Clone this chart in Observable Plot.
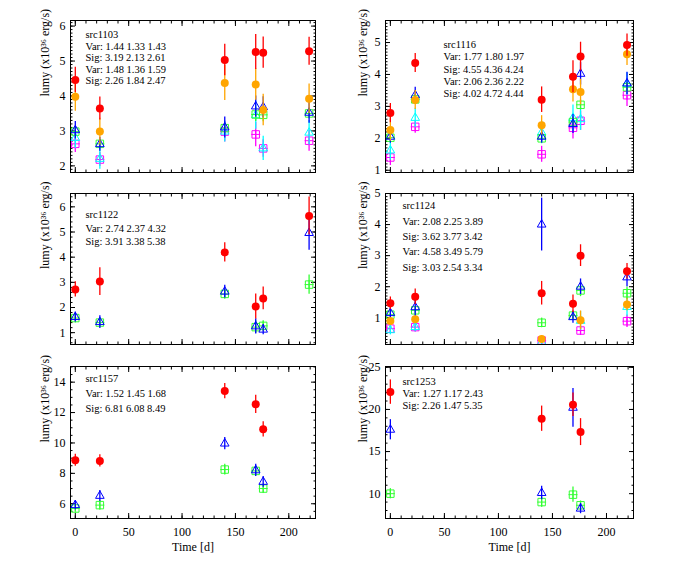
<!DOCTYPE html>
<html><head><meta charset="utf-8">
<script src="https://cdn.jsdelivr.net/npm/d3@7"></script>
<script src="https://cdn.jsdelivr.net/npm/@observablehq/plot@0.6"></script>
<style>
body{margin:0;background:#fff;}
#wrap{position:relative;width:692px;height:588px;background:#fff;}
#wrap svg{position:absolute;}
</style></head><body><div id="wrap"></div>
<script>
// observation epochs (days)
const times = [0, 23, 140, 169, 176, 219];
const xMajorTicks = [0, 50, 100, 150, 200];

// src1103
const s1103_red = [4.46, 3.64, 5.03, 5.26, 5.24, 5.28];
const s1103_redErr = [0.36, 0.33, 0.45, 0.5, 0.45, 0.4];
const s1103_orange = [3.98, 2.98, 4.37, 4.33, 3.6, 3.92];
const s1103_orangeErr = [0.42, 0.38, 0.5, 0.45, 0.45, 0.42];
const s1103_blue = [3.02, 2.62, 3.1, 3.7, 3.68, 3.52];
const s1103_blueErr = [0.25, 0.2, 0.3, 0.3, 0.3, 0.3];
const s1103_green = [2.98, 2.63, 3.08, 3.47, 3.46, 3.5];
const s1103_greenErr = [0.15, 0.12, 0.15, 0.2, 0.2, 0.15];
const s1103_cyan = [2.8, 2.2, 2.98, 3.45, 2.5, 2.95];
const s1103_cyanErr = [0.3, 0.3, 0.3, 0.4, 0.35, 0.35];
const s1103_magenta = [2.63, 2.18, 2.98, 2.9, 2.5, 2.72];
const s1103_magentaErr = [0.25, 0.2, 0.3, 0.35, 0.25, 0.3];
const s1103_text = ["src1103", "Var: 1.44 1.33 1.43", "Sig: 3.19 2.13 2.61", "Var: 1.48 1.36 1.59", "Sig: 2.26 1.84 2.47"];

// src1116
const s1116_red = [2.79, 4.36, 3.21, 3.93, 4.56, 4.92];
const s1116_redErr = [0.3, 0.3, 0.4, 0.5, 0.45, 0.35];
const s1116_orange = [2.26, 3.2, 2.41, 3.54, 3.45, 4.63];
const s1116_orangeErr = [0.35, 0.3, 0.3, 0.4, 0.4, 0.35];
const s1116_blue = [2.05, 3.35, 2.05, 2.45, 4.02, 3.72];
const s1116_blueErr = [0.2, 0.25, 0.2, 0.3, 0.35, 0.35];
const s1116_green = [2.02, 3.22, 2.0, 2.51, 3.05, 3.6];
const s1116_greenErr = [0.1, 0.15, 0.1, 0.15, 0.15, 0.15];
const s1116_cyan = [1.62, 2.64, 2.18, 2.64, 2.6, 3.7];
const s1116_cyanErr = [0.3, 0.3, 0.35, 0.4, 0.35, 0.35];
const s1116_magenta = [1.4, 2.36, 1.5, 2.33, 2.55, 3.35];
const s1116_magentaErr = [0.25, 0.2, 0.25, 0.35, 0.3, 0.35];
const s1116_text = ["src1116", "Var: 1.77 1.80 1.97", "Sig: 4.55 4.36 4.24", "Var: 2.06 2.36 2.22", "Sig: 4.02 4.72 4.44"];

// src1122
const s1122_red = [2.72, 3.03, 4.19, 2.04, 2.36, 5.64];
const s1122_redErr = [0.3, 0.55, 0.38, 0.5, 0.45, 0.75];
const s1122_blue = [1.62, 1.42, 2.63, 1.25, 1.12, 4.96];
const s1122_blueErr = [0.2, 0.25, 0.25, 0.3, 0.2, 0.68];
const s1122_green = [1.58, 1.4, 2.54, 1.22, 1.27, 2.91];
const s1122_greenErr = [0.15, 0.15, 0.2, 0.25, 0.2, 0.38];
const s1122_text = ["src1122", "Var: 2.74 2.37 4.32", "Sig: 3.91 3.38 5.38"];

// src1124
const s1124_red = [1.47, 1.68, 1.79, 1.45, 3.0, 2.5];
const s1124_redErr = [0.2, 0.25, 0.38, 0.28, 0.35, 0.25];
const s1124_orange = [0.9, 0.95, 0.32, null, 0.92, 1.43];
const s1124_orangeErr = [0.1, 0.1, 0.1, null, 0.3, 0.2];
const s1124_blue = [1.15, 1.34, 4.0, 1.02, 2.0, 2.3];
const s1124_blueErr = [0.25, 0.3, 0.85, 0.2, 0.25, 0.3];
const s1124_green = [1.1, 1.24, 0.84, 1.07, 1.88, 1.79];
const s1124_greenErr = [0.1, 0.1, 0.15, 0.1, 0.2, 0.2];
const s1124_cyan = [0.6, 0.7, 0.22, null, 0.9, 1.35];
const s1124_cyanErr = [0.15, 0.15, 0.1, null, 0.3, 0.3];
const s1124_magenta = [0.65, 0.7, 0.27, null, 0.59, 0.89];
const s1124_magentaErr = [0.15, 0.15, 0.1, null, 0.15, 0.2];
const s1124_text = ["src1124", "Var: 2.08 2.25 3.89", "Sig: 3.62 3.77 3.42", "Var: 4.58 3.49 5.79", "Sig: 3.03 2.54 3.34"];

// src1157
const s1157_red = [8.86, 8.82, 13.41, 12.54, 10.9, null];
const s1157_redErr = [0.4, 0.4, 0.5, 0.6, 0.5, null];
const s1157_blue = [5.91, 6.52, 9.96, 8.2, 7.44, null];
const s1157_blueErr = [0.3, 0.35, 0.4, 0.4, 0.35, null];
const s1157_green = [5.69, 5.91, 8.25, 8.16, 7.0, null];
const s1157_greenErr = [0.2, 0.3, 0.35, 0.3, 0.3, null];
const s1157_text = ["src1157", "Var: 1.52 1.45 1.68", "Sig: 6.81 6.08 8.49"];

// src1253
const s1253_red = [22.06, null, 18.9, 20.55, 17.31, null];
const s1253_redErr = [1.45, null, 1.5, 1.4, 1.6, null];
const s1253_blue = [17.59, null, 10.08, 20.2, 8.22, null];
const s1253_blueErr = [1.2, null, 0.8, 2.3, 0.6, null];
const s1253_green = [10.0, null, 9.0, 9.88, 8.62, null];
const s1253_greenErr = [0.6, null, 0.6, 0.9, 0.5, null];
const s1253_text = ["src1253", "Var: 1.27 1.17 2.43", "Sig: 2.26 1.47 5.35"];

const yLabel = "lumy (x10³⁶ erg/s)";
const xLabel = "Time [d]";

// ---------- styling ----------
const COLOR = {red: "#ff0000", orange: "#ffa500", blue: "#0000ff", green: "#33ff33", cyan: "#00ffff", magenta: "#ff00ff"};
const SYMBOL = {red: "circle", orange: "circle", blue: "triangle", green: "square", cyan: "triangle", magenta: "square"};
const DRAW_ORDER = ["magenta", "cyan", "green", "blue", "orange", "red"];
const FONT = "'Liberation Serif', 'Times New Roman', serif";

const panels = [
  {series: {red: [s1103_red, s1103_redErr], orange: [s1103_orange, s1103_orangeErr], blue: [s1103_blue, s1103_blueErr], green: [s1103_green, s1103_greenErr], cyan: [s1103_cyan, s1103_cyanErr], magenta: [s1103_magenta, s1103_magentaErr]},
   text: s1103_text, ydom: [1.81, 6.16], yMajor: [2, 3, 4, 5, 6], yMinorStep: 0.1,
   left: 0, top: 0, w: 346, h: 182, mL: 70, mR: 31, mT: 20, mB: 10, tdx: 15, tdy: [14.3, 26.1, 37.4, 48.7, 60], xLab: false},
  {series: {red: [s1116_red, s1116_redErr], orange: [s1116_orange, s1116_orangeErr], blue: [s1116_blue, s1116_blueErr], green: [s1116_green, s1116_greenErr], cyan: [s1116_cyan, s1116_cyanErr], magenta: [s1116_magenta, s1116_magentaErr]},
   text: s1116_text, ydom: [0.93, 5.69], yMajor: [1, 2, 3, 4, 5], yMinorStep: 0.1,
   left: 346, top: 0, w: 346, h: 182, mL: 39, mR: 59, mT: 20, mB: 10, tdx: 58, tdy: [24.3, 36.5, 49.3, 61, 73.3], xLab: false},
  {series: {red: [s1122_red, s1122_redErr], blue: [s1122_blue, s1122_blueErr], green: [s1122_green, s1122_greenErr]},
   text: s1122_text, ydom: [0.53, 6.53], yMajor: [1, 2, 3, 4, 5, 6], yMinorStep: 0.2,
   left: 0, top: 182, w: 346, h: 172, mL: 70, mR: 31, mT: 11, mB: 10, tdx: 15, tdy: [21.3, 34.7, 48], xLab: false},
  {series: {red: [s1124_red, s1124_redErr], orange: [s1124_orange, s1124_orangeErr], blue: [s1124_blue, s1124_blueErr], green: [s1124_green, s1124_greenErr], cyan: [s1124_cyan, s1124_cyanErr], magenta: [s1124_magenta, s1124_magentaErr]},
   text: s1124_text, ydom: [0.14, 5.0], yMajor: [1, 2, 3, 4, 5], yMinorStep: 0.1,
   left: 346, top: 182, w: 346, h: 172, mL: 39, mR: 59, mT: 11, mB: 10, tdx: 17, tdy: [12, 27.7, 43, 58.3, 74.3], xLab: false},
  {series: {red: [s1157_red, s1157_redErr], blue: [s1157_blue, s1157_blueErr], green: [s1157_green, s1157_greenErr]},
   text: s1157_text, ydom: [5.03, 15.03], yMajor: [6, 8, 10, 12, 14], yMinorStep: 0.5,
   left: 0, top: 354, w: 346, h: 234, mL: 70, mR: 31, mT: 12, mB: 70, tdx: 15, tdy: [12.3, 27, 42.3], xLab: true},
  {series: {red: [s1253_red, s1253_redErr], blue: [s1253_blue, s1253_blueErr], green: [s1253_green, s1253_greenErr]},
   text: s1253_text, ydom: [7.05, 25.1], yMajor: [10, 15, 20, 25], yMinorStep: 1,
   left: 346, top: 354, w: 346, h: 234, mL: 39, mR: 59, mT: 12, mB: 70, tdx: 17, tdy: [14.7, 26.7, 39], xLab: true}
];

const wrap = document.getElementById("wrap");
const xdom = [-4.5, 225];
const xMinor = d3.range(0, 225, 10);

for (const p of panels) {
  const yMinor = d3.range(Math.ceil(p.ydom[0] / p.yMinorStep) * p.yMinorStep, p.ydom[1] + 1e-9, p.yMinorStep);
  const marks = [];
  // ticks inside the frame on all four sides
  for (const anchor of ["bottom", "top"]) {
    marks.push(Plot.axisX(xMajorTicks, {anchor, tickSize: -5, tickFormat: () => "", label: null, strokeWidth: 1}));
    marks.push(Plot.axisX(xMinor, {anchor, tickSize: -2.5, tickFormat: () => "", label: null, strokeWidth: 1}));
  }
  for (const anchor of ["left", "right"]) {
    marks.push(Plot.axisY(p.yMajor, {anchor, tickSize: -5, tickFormat: () => "", label: null, strokeWidth: 1}));
    marks.push(Plot.axisY(yMinor, {anchor, tickSize: -2.5, tickFormat: () => "", label: null, strokeWidth: 1}));
  }
  marks.push(Plot.axisY(p.yMajor, {anchor: "left", tickSize: 0, tickPadding: 5, label: null, fontSize: 12, tickFormat: d3.format("d")}));
  if (p.xLab) {
    marks.push(Plot.axisX(xMajorTicks, {anchor: "bottom", tickSize: 0, tickPadding: 9, label: null, fontSize: 12, tickFormat: d3.format("d")}));
    marks.push(Plot.text([xLabel], {frameAnchor: "bottom", dy: 29, fontSize: 12, lineAnchor: "middle"}));
  }
  marks.push(Plot.text([yLabel], {frameAnchor: "left", rotate: -90, dx: p.mL === 70 ? -25 : -22, fontSize: 12, lineAnchor: "middle"}));
  marks.push(Plot.frame({stroke: "#000", strokeWidth: 1}));

  for (const key of DRAW_ORDER) {
    if (!p.series[key]) continue;
    const [vals, errs] = p.series[key];
    const rows = times.map((t, i) => ({t, v: vals[i], e: errs[i]})).filter(d => d.v != null);
    const c = COLOR[key];
    marks.push(Plot.ruleX(rows, {x: "t", y1: d => d.v - d.e, y2: d => d.v + d.e, stroke: c, strokeWidth: 1.3, clip: true}));
    if (SYMBOL[key] === "circle") {
      marks.push(Plot.dot(rows, {x: "t", y: "v", r: 4, fill: c, stroke: "none", clip: true}));
    } else if (SYMBOL[key] === "triangle") {
      marks.push(Plot.dot(rows, {x: "t", y: "v", r: 3.2, symbol: "triangle", fill: "none", stroke: c, strokeWidth: 1, clip: true}));
    } else {
      marks.push(Plot.dot(rows, {x: "t", y: "v", r: 4.2, symbol: "square", fill: "none", stroke: c, strokeWidth: 1, clip: true}));
      marks.push(Plot.dot(rows, {x: "t", y: "v", r: 3, symbol: "plus", fill: "none", stroke: c, strokeWidth: 1, clip: true}));
    }
  }
  p.text.forEach((t, i) => {
    marks.push(Plot.text([t], {frameAnchor: "top-left", dx: p.tdx, dy: p.tdy[i], textAnchor: "start", lineAnchor: "middle", fontSize: 10.5, fill: "#000"}));
  });

  const svg = Plot.plot({
    width: p.w, height: p.h,
    marginLeft: p.mL, marginRight: p.mR, marginTop: p.mT, marginBottom: p.mB,
    style: {fontFamily: FONT, fontSize: "11px", background: "transparent", color: "#000", overflow: "visible"},
    x: {domain: xdom},
    y: {domain: p.ydom},
    marks
  });
  svg.style.left = p.left + "px";
  svg.style.top = p.top + "px";
  wrap.appendChild(svg);
}
</script></body></html>
